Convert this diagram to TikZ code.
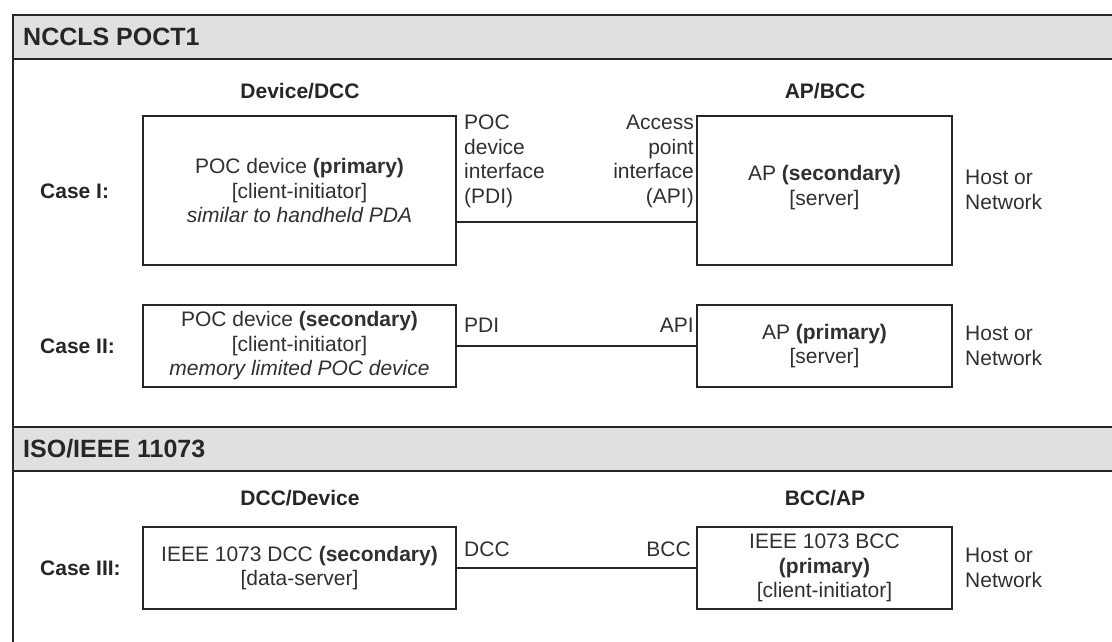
\documentclass[tikz,border=0pt]{standalone}
\usepackage{fontspec}
\setmainfont{Liberation Sans}
\definecolor{ink}{HTML}{262626}
\definecolor{txtc}{HTML}{303030}
\definecolor{hdr}{HTML}{E0E0E0}
\begin{document}
\begin{tikzpicture}[x=1pt,y=-1pt,
  frame/.style={draw=ink, line width=2pt},
  hdrbar/.style={draw=ink, line width=2pt, fill=hdr},
  box/.style={draw=ink, line width=2pt, fill=white, inner sep=0pt, align=center,
    text=txtc, font=\fontsize{21}{24.5}\selectfont},
  wire/.style={draw=ink, line width=2pt},
  txt/.style={inner sep=0pt, text=txtc, font=\fontsize{21}{24.5}\selectfont},
  bold/.style={inner sep=0pt, text=ink, font=\fontsize{21}{24.5}\selectfont\bfseries},
  title/.style={inner sep=0pt, text=ink, font=\fontsize{25}{28}\selectfont\bfseries}]
\useasboundingbox (0,0) rectangle (1112,641);
\clip (0,0) rectangle (1112,641);
% frame
\draw[frame] (13,15) -- (13,660);
\draw[hdrbar] (13,15) rectangle (1130,59);
\draw[hdrbar] (13,427) rectangle (1130,471);
\node[title, anchor=west] (h1) at (23,37) {NCCLS POCT1};
\node[title, anchor=west] (h2) at (23,449) {ISO/IEEE 11073};
% column headings
\node[bold] (c1l) at (300,91) {Device/DCC};
\node[bold] (c1r) at (825,91) {AP/BCC};
\node[bold] (c3l) at (300,498) {DCC/Device};
\node[bold] (c3r) at (825,498) {BCC/AP};
% case labels
\node[bold, anchor=west] (k1) at (40,191) {Case I:};
\node[bold, anchor=west] (k2) at (40,346) {Case II:};
\node[bold, anchor=west] (k3) at (40,568) {Case III:};
% Case I
\node[box, minimum width=313pt, minimum height=149pt] (d1) at (299.5,190.5)
  {POC device \textbf{(primary)}\\{[client-initiator]}\\\textit{similar to handheld PDA}};
\node[box, minimum width=255pt, minimum height=149pt] (a1) at (824.5,190.5) {};
\node[txt, align=center] (a1t) at (824.5,187.5) {AP \textbf{(secondary)}\\{[server]}};
\coordinate (w1) at (456,222);
\draw[wire] (d1.east |- w1) -- (a1.west |- w1);
\node[txt, anchor=west, align=left] (pdi1) at (464,161.5) {POC\\device\\interface\\(PDI)};
\node[txt, anchor=east, align=right] (api1) at (694,161.5) {Access\\point\\interface\\(API)};
\node[txt, anchor=west, align=left] (n1) at (965,190) {Host or\\Network};
% Case II
\node[box, minimum width=313pt, minimum height=82pt] (d2) at (299.5,346)
  {POC device \textbf{(secondary)}\\{[client-initiator]}\\\textit{memory limited POC device}};
\node[box, minimum width=255pt, minimum height=82pt] (a2) at (824.5,346)
  {AP \textbf{(primary)}\\{[server]}};
\draw[wire] (d2.east) -- (a2.west);
\node[txt, anchor=west] (pdi2) at (464,325) {PDI};
\node[txt, anchor=east] (api2) at (694,325) {API};
\node[txt, anchor=west, align=left] (n2) at (965,346) {Host or\\Network};
% Case III
\node[box, minimum width=313pt, minimum height=82pt] (d3) at (299.5,568)
  {IEEE 1073 DCC \textbf{(secondary)}\\{[data-server]}};
\node[box, minimum width=255pt, minimum height=82pt] (a3) at (824.5,568)
  {IEEE 1073 BCC\\\textbf{(primary)}\\{[client-initiator]}};
\draw[wire] (d3.east) -- (a3.west);
\node[txt, anchor=west] (dcc) at (464,549) {DCC};
\node[txt, anchor=east] (bcc) at (691,549) {BCC};
\node[txt, anchor=west, align=left] (n3) at (965,568) {Host or\\Network};
\end{tikzpicture}
\end{document}
